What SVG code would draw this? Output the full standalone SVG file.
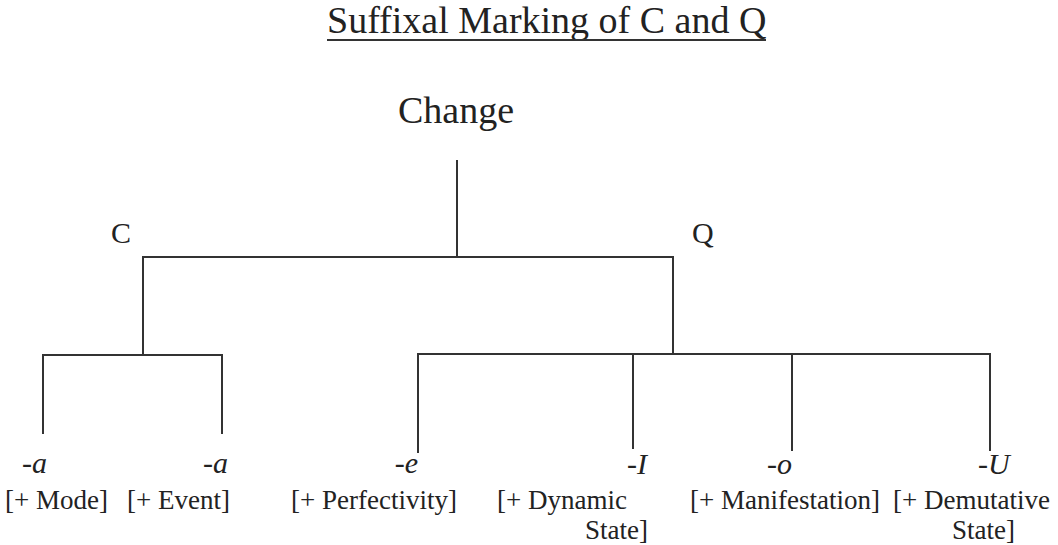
<svg xmlns="http://www.w3.org/2000/svg" width="1058" height="545" viewBox="0 0 1058 545">
<style>
.t{font-family:"Liberation Serif","Times New Roman",serif;fill:#222}
.title{font-size:38px}
.head{font-size:38px}
.cat{font-size:30px}
.suf{font-size:30px;font-style:italic}
.lab{font-size:27px}
.ln{stroke:#333;stroke-width:2;fill:none;stroke-linecap:square}
</style>
<rect width="1058" height="545" fill="#ffffff"/>
<g id="title">
<text class="t title" x="327" y="33">Suffixal Marking of C and Q</text>
<line x1="327" y1="40" x2="766" y2="40" stroke="#333" stroke-width="2"/>
</g>
<g id="connectors">
<path class="ln" d="M457,161 V257 M143,257 H673 M143,257 V355 M43,355 H222 M43,355 V433 M222,355 V433 M673,257 V354 M418,354 H990 M418,354 V452 M633,354 V448 M792,354 V450 M990,354 V450"/>
</g>
<g id="node-change"><text class="t head" x="398" y="123">Change</text></g>
<g id="node-c"><text class="t cat" x="111" y="243">C</text></g>
<g id="node-q"><text class="t cat" x="692" y="243">Q</text></g>
<g id="node-a1">
<text class="t suf" x="22" y="473">-a</text>
<text class="t lab" x="5" y="509">[+ Mode]</text>
</g>
<g id="node-a2">
<text class="t suf" x="203" y="473">-a</text>
<text class="t lab" x="127" y="509">[+ Event]</text>
</g>
<g id="node-e">
<text class="t suf" x="418" y="473" text-anchor="end">-e</text>
<text class="t lab" x="291" y="509">[+ Perfectivity]</text>
</g>
<g id="node-i">
<text class="t suf" x="627" y="474">-I</text>
<text class="t lab" x="497" y="509">[+ Dynamic</text>
<text class="t lab" x="585" y="539">State]</text>
</g>
<g id="node-o">
<text class="t suf" x="792" y="474" text-anchor="end">-o</text>
<text class="t lab" x="690" y="509">[+ Manifestation]</text>
</g>
<g id="node-u">
<text class="t suf" x="978" y="474">-U</text>
<text class="t lab" x="1050" y="509" text-anchor="end">[+ Demutative</text>
<text class="t lab" x="952" y="539">State]</text>
</g>
</svg>
